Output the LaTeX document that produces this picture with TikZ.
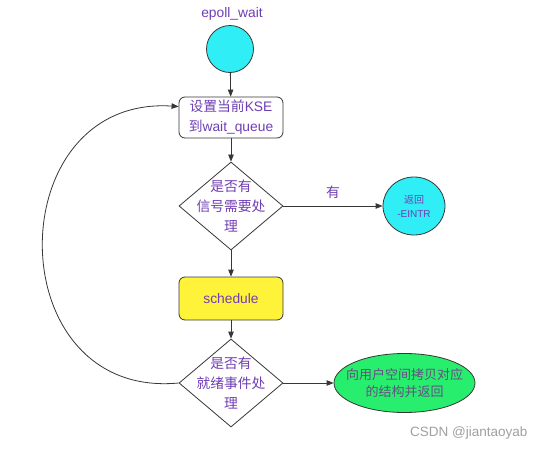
\documentclass[tikz,border=0pt]{standalone}
\usepackage{fontspec}
\setmainfont{Liberation Sans}
\newfontfamily\cjk{Noto Sans CJK SC}
\usetikzlibrary{shapes.geometric,arrows.meta}
\definecolor{txt}{RGB}{112,62,180}
\definecolor{gtxt}{RGB}{100,80,130}
\definecolor{lin}{RGB}{55,55,55}
\definecolor{cyanf}{RGB}{48,238,245}
\definecolor{yelf}{RGB}{255,243,58}
\definecolor{grnf}{RGB}{40,238,110}
\definecolor{wm}{RGB}{160,160,160}
\tikzset{
  base/.style={draw=lin, line width=0.8pt, text=txt, font=\fontsize{13.8}{20}\selectfont, align=center},
  rbox/.style={base, rectangle, rounded corners=6pt, minimum width=104pt, minimum height=41pt, inner sep=0pt},
  dia/.style={base, diamond, minimum width=104pt, minimum height=88pt, inner sep=0pt},
  arr/.style={draw=lin, line width=0.8pt, -{Triangle[length=7pt,width=5.5pt]}},
}
\begin{document}
\begin{tikzpicture}[x=1pt,y=-1pt]
\fill[white] (0,0) rectangle (544,450);
\useasboundingbox (0,0) rectangle (544,450);
\node[text=txt, font=\fontsize{13.8}{16}\selectfont] (title) at (232,14) {epoll\_wait};
\node[base, circle, fill=cyanf, minimum size=47pt, inner sep=0pt] (start) at (230,49) {};
\node[rbox, fill=white] (kse) at (231,117.5) {{\cjk 设置当前}KSE\\{\cjk 到}wait\_queue};
\node[dia, fill=white, label={[text=txt, align=center, font=\fontsize{13.8}{20}\selectfont]center:{\cjk 是否有}\\{\cjk 信号需要处}\\{\cjk 理}}] (sig) at (231,206) {};
\node[base, ellipse, fill=cyanf, minimum width=62pt, minimum height=58pt, inner sep=0pt, font=\fontsize{10}{14}\selectfont] (eintr) at (414,206) {{\cjk 返回}\\-EINTR};
\node[rbox, fill=yelf, minimum height=43pt] (sched) at (231,298.5) {schedule};
\node[dia, fill=white, label={[text=txt, align=center, font=\fontsize{13.8}{20}\selectfont]center:{\cjk 是否有}\\{\cjk 就绪事件处}\\{\cjk 理}}] (ready) at (231,383) {};
\node[base, ellipse, fill=grnf, minimum width=141pt, minimum height=59pt, inner sep=0pt, label={[text=gtxt, align=center, font=\fontsize{13}{17}\selectfont]center:{\cjk 向用户空间拷贝对应}\\{\cjk 的结构并返回}}] (ret) at (404.5,383) {};
\node[text=wm, font=\fontsize{13.5}{16}\selectfont, anchor=east] (mark) at (531,433) {CSDN @jiantaoyab};
\draw[arr] (start) -- (kse);
\draw[arr] (kse) -- (sig);
\draw[arr] (sig.east) -- node[midway, above=4pt, text=txt, font=\fontsize{13.8}{16}\selectfont] {\cjk 有} (eintr.west);
\draw[arr] (sig) -- (sched);
\draw[arr] (sched) -- (ready);
\draw[arr] (ready.east) -- (ret.west);
\draw[arr] (ready.west) .. controls (-2,400) and (-2,95) .. ([yshift=11pt]kse.west);
\end{tikzpicture}
\end{document}
